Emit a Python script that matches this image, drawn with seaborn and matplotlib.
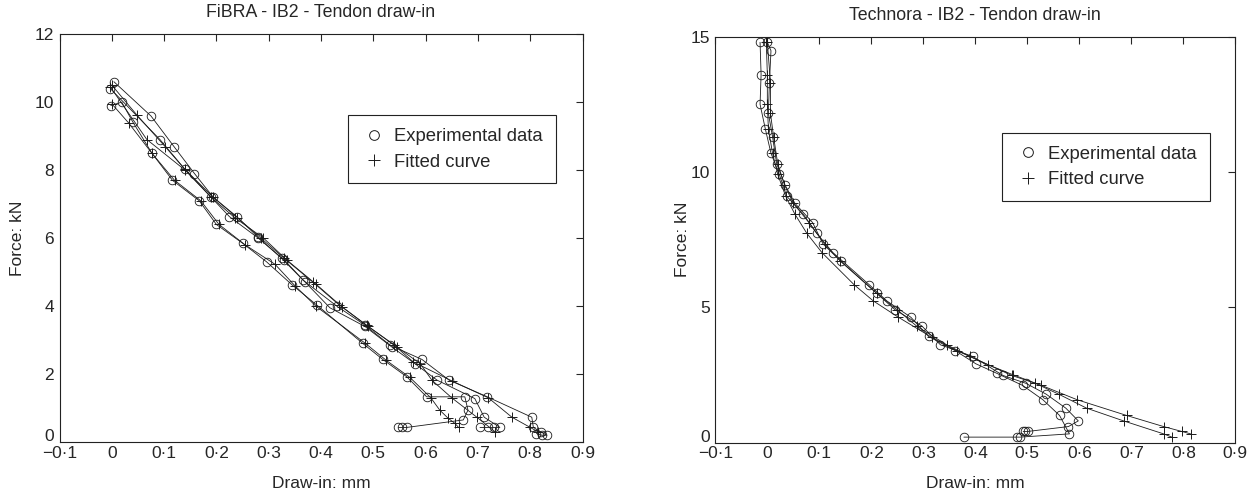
import numpy as np
import pandas as pd
import matplotlib
matplotlib.use("Agg")
import matplotlib.pyplot as plt
import seaborn as sns
from matplotlib.lines import Line2D
from matplotlib.ticker import FuncFormatter, MultipleLocator

# ---- FiBRA panel: experimental runs (circles) and fitted curves (+)
fibra_exp1_x = [0.004, 0.075, 0.119, 0.158, 0.194, 0.239, 0.28, 0.325, 0.366, 0.43, 0.484, 0.532,
                0.593, 0.645, 0.718, 0.803, 0.806, 0.82, 0.832, 0.822, 0.812]
fibra_exp1_y = [10.6, 9.59, 8.69, 7.9, 7.2, 6.63, 6.02, 5.4, 4.76, 4.0, 3.44, 2.85,
                2.43, 1.82, 1.33, 0.73, 0.43, 0.3, 0.2, 0.2, 0.25]
fibra_exp2_x = [-0.003, 0.092, 0.14, 0.19, 0.225, 0.28, 0.33, 0.37, 0.417, 0.484, 0.535, 0.58,
                0.622, 0.694, 0.712, 0.742, 0.73, 0.72, 0.704]
fibra_exp2_y = [10.4, 8.9, 8.02, 7.2, 6.63, 6.0, 5.35, 4.7, 3.95, 3.4, 2.8, 2.3,
                1.82, 1.28, 0.73, 0.43, 0.43, 0.43, 0.43]
fibra_exp3_x = [-0.002, 0.019, 0.04, 0.077, 0.116, 0.167, 0.2, 0.25, 0.296, 0.345, 0.392, 0.48,
                0.518, 0.564, 0.602, 0.675, 0.681, 0.672, 0.564, 0.554, 0.548]
fibra_exp3_y = [9.9, 10.0, 9.42, 8.49, 7.7, 7.1, 6.4, 5.85, 5.3, 4.62, 4.03, 2.9,
                2.43, 1.92, 1.33, 1.33, 0.94, 0.65, 0.43, 0.43, 0.43]
fibra_fit1_x = [0.0, 0.048, 0.102, 0.14, 0.194, 0.24, 0.285, 0.33, 0.384, 0.435, 0.487, 0.54,
                0.576, 0.65, 0.72, 0.765, 0.8, 0.815]
fibra_fit1_y = [10.5, 9.62, 8.69, 8.02, 7.2, 6.6, 6.0, 5.4, 4.71, 4.03, 3.44, 2.85,
                2.36, 1.8, 1.3, 0.73, 0.43, 0.3]
fibra_fit2_x = [-0.003, 0.067, 0.14, 0.19, 0.235, 0.29, 0.335, 0.39, 0.44, 0.49, 0.545, 0.59,
                0.612, 0.65, 0.698, 0.733]
fibra_fit2_y = [10.45, 8.9, 8.0, 7.2, 6.6, 6.0, 5.35, 4.65, 3.98, 3.4, 2.8, 2.3,
                1.82, 1.3, 0.73, 0.3]
fibra_fit3_x = [0.0, 0.032, 0.077, 0.12, 0.17, 0.205, 0.255, 0.312, 0.35, 0.39, 0.485, 0.525,
                0.57, 0.61, 0.627, 0.643, 0.656, 0.663]
fibra_fit3_y = [9.95, 9.39, 8.49, 7.7, 7.1, 6.4, 5.8, 5.23, 4.6, 4.0, 2.9, 2.4,
                1.9, 1.3, 0.94, 0.7, 0.55, 0.43]

# ---- Technora panel
tech_exp1_x = [0.0, 0.007, 0.004, 0.002, 0.010, 0.018, 0.034, 0.053, 0.087, 0.107, 0.141, 0.21,
               0.246, 0.297, 0.333, 0.395, 0.453, 0.497, 0.536, 0.574, 0.598, 0.579, 0.501, 0.496, 0.492]
tech_exp1_y = [14.79, 14.48, 13.3, 12.17, 11.3, 10.3, 9.52, 8.84, 8.13, 7.34, 6.71, 5.52,
               4.9, 4.31, 3.61, 3.18, 2.48, 2.19, 1.79, 1.27, 0.8, 0.59, 0.41, 0.41, 0.41]
tech_exp2_x = [-0.014, -0.012, -0.014, -0.004, 0.007, 0.023, 0.037, 0.069, 0.095, 0.126, 0.196, 0.23,
               0.276, 0.31, 0.361, 0.401, 0.441, 0.491, 0.53, 0.562, 0.581, 0.486, 0.48, 0.378]
tech_exp2_y = [14.79, 13.6, 12.5, 11.6, 10.69, 9.91, 9.11, 8.44, 7.73, 7.02, 5.83, 5.23,
               4.63, 3.92, 3.4, 2.91, 2.56, 2.11, 1.58, 1.0, 0.32, 0.2, 0.2, 0.2]
tech_fit1_x = [-0.002, 0.0, 0.0, 0.002, 0.01, 0.02, 0.035, 0.053, 0.076, 0.105, 0.167, 0.204,
               0.252, 0.316, 0.364, 0.425, 0.473, 0.526, 0.596, 0.691, 0.762, 0.797, 0.814]
tech_fit1_y = [14.79, 13.6, 12.5, 11.6, 10.69, 9.91, 9.11, 8.44, 7.73, 7.02, 5.83, 5.23,
               4.63, 3.89, 3.4, 2.87, 2.5, 2.12, 1.58, 1.0, 0.59, 0.41, 0.32]
tech_fit2_x = [0.0, 0.006, 0.006, 0.012, 0.02, 0.033, 0.05, 0.08, 0.11, 0.14, 0.21, 0.25,
               0.288, 0.345, 0.39, 0.47, 0.515, 0.56, 0.614, 0.685, 0.762, 0.778]
tech_fit2_y = [14.79, 13.3, 12.17, 11.3, 10.3, 9.52, 8.84, 8.13, 7.34, 6.71, 5.52, 4.9,
               4.29, 3.61, 3.18, 2.48, 2.19, 1.79, 1.27, 0.8, 0.32, 0.2]


def frame(runs):
    rows = []
    for name, kind, xs, ys in runs:
        for i, (x, y) in enumerate(zip(xs, ys)):
            rows.append({"run": name, "kind": kind, "order": i, "x": x, "y": y})
    return pd.DataFrame(rows)


df_fibra = frame([
    ("e1", "exp", fibra_exp1_x, fibra_exp1_y),
    ("e2", "exp", fibra_exp2_x, fibra_exp2_y),
    ("e3", "exp", fibra_exp3_x, fibra_exp3_y),
    ("f1", "fit", fibra_fit1_x, fibra_fit1_y),
    ("f2", "fit", fibra_fit2_x, fibra_fit2_y),
    ("f3", "fit", fibra_fit3_x, fibra_fit3_y),
])
df_tech = frame([
    ("e1", "exp", tech_exp1_x, tech_exp1_y),
    ("e2", "exp", tech_exp2_x, tech_exp2_y),
    ("f1", "fit", tech_fit1_x, tech_fit1_y),
    ("f2", "fit", tech_fit2_x, tech_fit2_y),
])

FS = 12.5


def dot_fmt(v, pos):
    if abs(v) < 1e-9:
        return "0"
    s = f"{abs(v):.1f}".replace(".", "\u00b7")
    return ("\u2212" if v < 0 else "") + s


def int_fmt(v, pos):
    # the zero label is placed by hand, a little higher, so it clears the x labels
    return "" if abs(v) < 1e-9 else f"{v:g}"


def draw_panel(ax, df, title, ylim, ystep, legend_anchor, ylabelpad):
    for run, sub in df.groupby("run"):
        kind = sub["kind"].iloc[0]
        if kind == "exp":
            sns.lineplot(data=sub, x="x", y="y", sort=False, estimator=None, ax=ax,
                         color="k", lw=0.6, marker="o", markersize=6.2,
                         markerfacecolor="none", markeredgecolor="k", markeredgewidth=0.6)
        else:
            sns.lineplot(data=sub, x="x", y="y", sort=False, estimator=None, ax=ax,
                         color="k", lw=0.6, marker="+", markersize=7,
                         markeredgecolor="k", markeredgewidth=0.7)
    ax.set_xlim(-0.1, 0.9)
    ax.set_ylim(*ylim)
    ax.xaxis.set_major_locator(MultipleLocator(0.1))
    ax.yaxis.set_major_locator(MultipleLocator(ystep))
    ax.xaxis.set_major_formatter(FuncFormatter(dot_fmt))
    ax.yaxis.set_major_formatter(FuncFormatter(int_fmt))
    ax.tick_params(direction="in", length=5, width=0.8, top=True, right=True, labelsize=FS)
    ax.tick_params(axis="x", pad=2.5)
    ax.tick_params(axis="y", pad=4)
    ax.annotate("0", xy=(0, 0), xycoords="axes fraction", xytext=(-4, 5),
                textcoords="offset points", ha="right", va="center_baseline", fontsize=FS)
    for sp in ax.spines.values():
        sp.set_linewidth(0.8)
        sp.set_color("#222222")
    ax.set_title(title, fontsize=12.8, pad=12)
    ax.set_xlabel("Draw-in: mm", fontsize=FS, labelpad=11)
    ax.set_ylabel("Force: kN", fontsize=FS, labelpad=ylabelpad)
    handles = [
        Line2D([], [], ls="none", marker="o", markersize=7, markerfacecolor="none",
               markeredgecolor="k", markeredgewidth=0.7),
        Line2D([], [], ls="none", marker="+", markersize=9, color="k", markeredgewidth=0.7),
    ]
    leg = ax.legend(handles, ["Experimental data", "Fitted curve"], loc="upper right",
                    bbox_to_anchor=legend_anchor, borderaxespad=0, fontsize=13.3, frameon=True,
                    fancybox=False, framealpha=1, edgecolor="#222222", handlelength=1.4,
                    handletextpad=0.4, borderpad=0.7, labelspacing=0.45)
    leg.get_frame().set_linewidth(0.8)


sns.set_theme(style="white")
plt.rcParams["font.family"] = ["Liberation Sans", "DejaVu Sans"]
plt.rcParams["axes.unicode_minus"] = True

fig = plt.figure(figsize=(12.53, 4.95), dpi=100)
ax1 = fig.add_axes([0.0475, 0.107, 0.4174, 0.824])
ax2 = fig.add_axes([0.5709, 0.106, 0.4150, 0.820])

draw_panel(ax1, df_fibra, "FiBRA - IB2 - Tendon draw-in", (0, 12), 2, (0.949, 0.801), 7)
draw_panel(ax2, df_tech, "Technora - IB2 - Tendon draw-in", (0, 15), 5, (0.951, 0.763), 0)

fig.savefig("out.png", dpi=100)
plt.close(fig)
